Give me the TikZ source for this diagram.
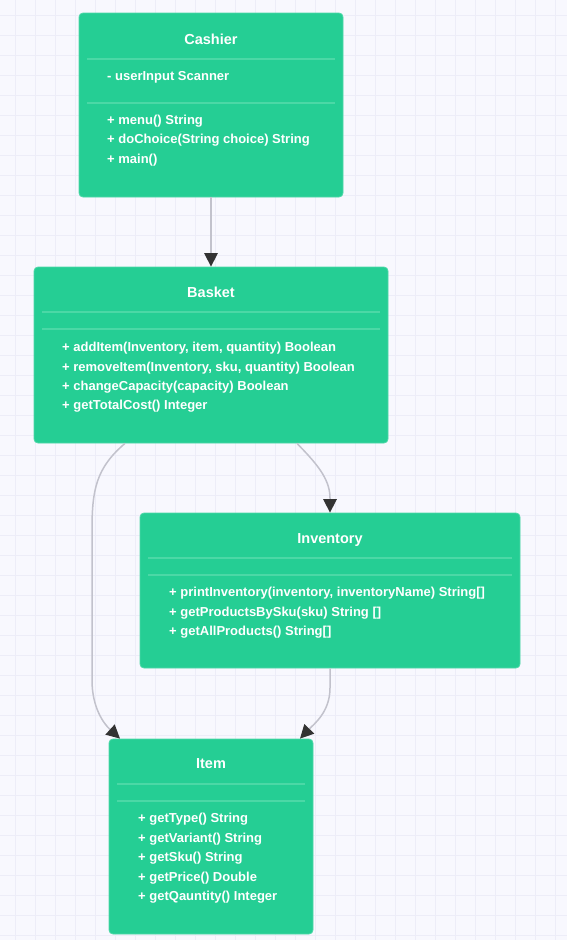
\documentclass[tikz,border=0pt]{standalone}
\usepackage{fontspec}
\setmainfont{Liberation Sans}
\usetikzlibrary{arrows.meta,calc}
\definecolor{bgc}{HTML}{F8F8FE}
\definecolor{gridc}{HTML}{EDEDF8}
\definecolor{boxc}{HTML}{25CE94}
\definecolor{boxedge}{HTML}{4ED8A8}
\definecolor{divc}{HTML}{4BD8A6}
\definecolor{edgec}{HTML}{C2C2CC}
\definecolor{tipc}{HTML}{333333}
\tikzset{
  umlbox/.style={draw=boxedge, line width=0.8pt, fill=boxc, rounded corners=4pt, inner sep=0pt},
  title/.style={text=white, font=\bfseries\fontsize{14.5}{16}\selectfont, inner sep=0pt, text height=10.4pt, text depth=0pt},
  member/.style={text=white, font=\bfseries\fontsize{13}{15}\selectfont, inner sep=0pt, anchor=west, text height=9.4pt, text depth=0pt},
  divider/.style={draw=divc, line width=1.2pt},
  rel/.style={draw=edgec, line width=1.5pt, -{Triangle[length=13.5pt,width=13.5pt,color=tipc]}}
}
\begin{document}
\begin{tikzpicture}[x=1pt,y=-1pt]
\useasboundingbox (0,0) rectangle (567,940);
\fill[bgc] (0,0) rectangle (567,940);
\foreach \gx in {15,35,...,555} \draw[gridc, line width=1pt] (\gx,0) -- (\gx,940);
\foreach \gy in {15,35,...,935} \draw[gridc, line width=1pt] (0,\gy) -- (567,\gy);

% Cashier
\node[umlbox, minimum width=264pt, minimum height=184pt] (cashier) at (211,105) {};
\node[title] (cashierT) at (211,39) {Cashier};
\draw[divider] (87,59) -- (335,59);
\node[member] (cashierA1) at (107,76) {- userInput Scanner};
\draw[divider] (87,103) -- (335,103);
\node[member] (cashierM1) at (107,120) {+ menu() String};
\node[member] (cashierM2) at (107,139) {+ doChoice(String choice) String};
\node[member] (cashierM3) at (107,159) {+ main()};

% Basket
\node[umlbox, minimum width=354pt, minimum height=176pt] (basket) at (211,355) {};
\node[title] (basketT) at (211,292) {Basket};
\draw[divider] (42,312) -- (380,312);
\draw[divider] (42,329) -- (380,329);
\node[member] (basketM1) at (62,347) {+ addItem(Inventory, item, quantity) Boolean};
\node[member] (basketM2) at (62,367) {+ removeItem(Inventory, sku, quantity) Boolean};
\node[member] (basketM3) at (62,386) {+ changeCapacity(capacity) Boolean};
\node[member] (basketM4) at (62,405) {+ getTotalCost() Integer};

% Inventory
\node[umlbox, minimum width=380pt, minimum height=155pt] (inventory) at (330,590.5) {};
\node[title] (inventoryT) at (330,538) {Inventory};
\draw[divider] (148,558) -- (512,558);
\draw[divider] (148,575) -- (512,575);
\node[member] (inventoryM1) at (169,592) {+ printInventory(inventory, inventoryName) String[]};
\node[member] (inventoryM2) at (169,612) {+ getProductsBySku(sku) String []};
\node[member] (inventoryM3) at (169,631) {+ getAllProducts() String[]};

% Item
\node[umlbox, minimum width=204pt, minimum height=195pt] (item) at (211,836.5) {};
\node[title] (itemT) at (211,763) {Item};
\draw[divider] (117,784) -- (305,784);
\draw[divider] (117,801) -- (305,801);
\node[member] (itemM1) at (138,818) {+ getType() String};
\node[member] (itemM2) at (138,838) {+ getVariant() String};
\node[member] (itemM3) at (138,857) {+ getSku() String};
\node[member] (itemM4) at (138,877) {+ getPrice() Double};
\node[member] (itemM5) at (138,896) {+ getQauntity() Integer};

% Relations
\draw[rel] (cashier.south) -- (basket.north);
\draw[rel] ([xshift=-86pt]basket.south) .. controls (96,468) and (92,490) .. (92,530)
  -- (92,680) .. controls (92,708) and (104,724) .. ([xshift=-91pt]item.north);
\draw[rel] ([xshift=86pt]basket.south) .. controls (315,462) and (330,478) .. (330,498)
  -- (inventory.north);
\draw[rel] (inventory.south) -- (330,688) .. controls (330,712) and (314,724) .. ([xshift=89pt]item.north);
\end{tikzpicture}
\end{document}
